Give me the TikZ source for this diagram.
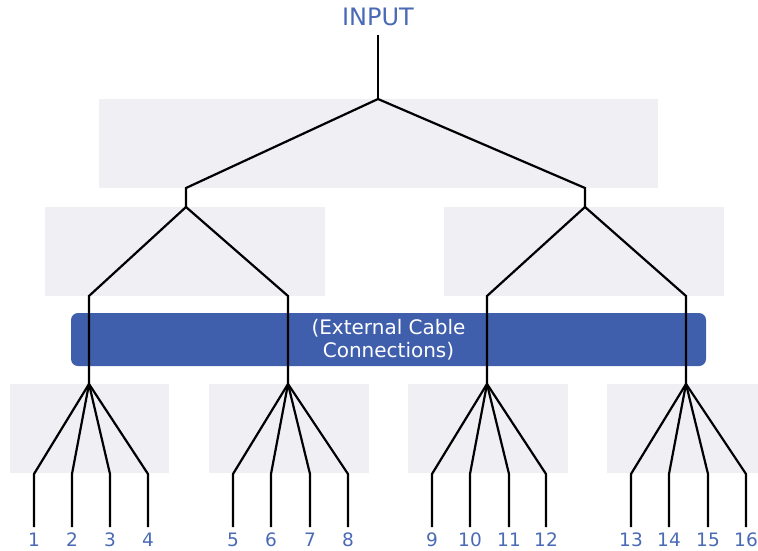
\documentclass[tikz,border=0pt]{standalone}
\usepackage{fontspec}
\setmainfont{DejaVu Sans}
\begin{document}
\begin{tikzpicture}[x=1pt,y=-1pt,
  greybox/.style={fill=boxgrey,draw=none},
  wire/.style={line width=2.2pt,line join=miter},
  lbl/.style={text=lblblue,inner sep=0pt,anchor=north,font=\fontsize{18.5}{20}\selectfont}]
\definecolor{boxgrey}{HTML}{EFEFF4}
\definecolor{barblue}{HTML}{3F5FAC}
\definecolor{lblblue}{HTML}{4A6AB6}
\useasboundingbox (0,0) rectangle (758,550);
% grey boxes
\fill[greybox] (99,99) rectangle (658,188);
\fill[greybox] (45,207) rectangle (325,296);
\fill[greybox] (444,207) rectangle (724,296);
\fill[greybox] (10,384) rectangle (169,473);
\fill[greybox] (209,384) rectangle (369,473);
\fill[greybox] (408,384) rectangle (568,473);
\fill[greybox] (607,384) rectangle (758,473);
% blue bar
\node[fill=barblue,rounded corners=7pt,minimum width=635pt,minimum height=53pt,inner sep=0pt,
  text=white,align=center,font=\fontsize{20}{23}\selectfont] (bar) at (388.5,339.5)
  {(External Cable\\Connections)};
% input
\node[text=lblblue,inner sep=0pt,font=\fontsize{24}{26}\selectfont] (in) at (378,17) {INPUT};
% junctions
\coordinate (j0) at (378,99);
\coordinate (aL) at (186,188); \coordinate (jL) at (186,207);
\coordinate (aR) at (585,188); \coordinate (jR) at (585,207);
\coordinate (b1) at (89,296);  \coordinate (g1) at (89,384);
\coordinate (b2) at (288,296); \coordinate (g2) at (288,384);
\coordinate (b3) at (487,296); \coordinate (g3) at (487,384);
\coordinate (b4) at (686,296); \coordinate (g4) at (686,384);
\draw[wire] (in.south |- 0,35) -- (j0);
\draw[wire] (jL) -- (aL) -- (j0) -- (aR) -- (jR);
\draw[wire] (g1) -- (b1) -- (jL) -- (b2) -- (g2);
\draw[wire] (g3) -- (b3) -- (jR) -- (b4) -- (g4);
% leaves
\foreach \n/\x/\g in {1/34/g1,2/72/g1,3/110/g1,4/148/g1,
                      5/233/g2,6/271/g2,7/310/g2,8/348/g2,
                      9/432/g3,10/470/g3,11/509/g3,12/546/g3,
                      13/631/g4,14/669/g4,15/708/g4,16/746/g4}{
  \coordinate (k\n) at (\x,474);
  \node[lbl] (n\n) at (\x,533) {\n};
  \draw[wire] (\g) -- (k\n) -- (n\n.north |- 0,527);
}
\end{tikzpicture}
\end{document}
